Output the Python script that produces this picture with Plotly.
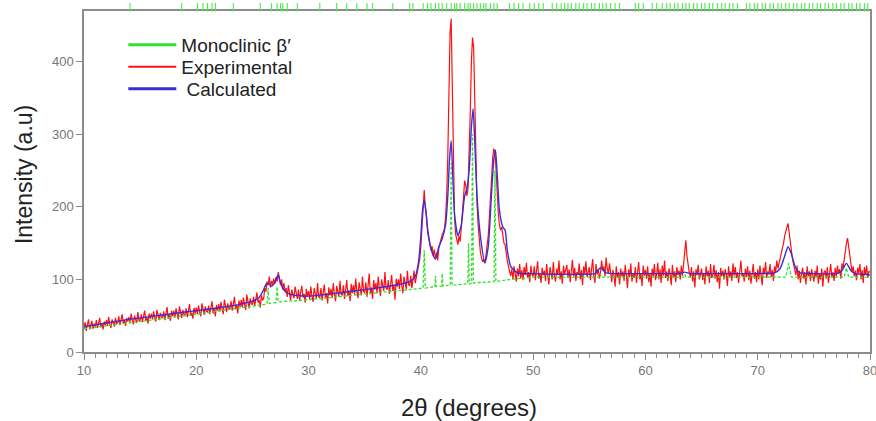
import plotly.graph_objects as go

# ---------------- data ----------------
exp_start, exp_step = 10.0, 0.1
experimental = [
    33,41,29,38,45,31,37,43,32,39,
    35,44,33,40,47,34,39,31,42,37,
    44,36,48,38,33,45,41,35,47,39,
    40,49,37,45,52,39,44,36,47,42,
    48,41,53,44,38,50,46,40,55,43,
    44,52,41,49,57,43,48,39,53,46,
    53,45,56,47,42,58,50,44,54,48,
    47,56,44,53,62,46,51,43,57,49,
    57,48,60,52,45,63,55,47,58,51,
    51,60,48,57,66,50,54,46,61,53,
    61,52,64,55,49,67,58,51,63,56,
    55,64,52,61,70,53,60,49,65,57,
    66,56,69,59,52,72,62,55,67,60,
    60,70,57,66,76,59,65,53,71,62,
    72,61,75,65,58,79,68,60,74,66,
    66,76,63,73,82,68,72,61,78,71,
    74,88,83,97,92,104,89,98,93,101,
    94,103,97,110,99,92,100,86,95,84,
    88,76,92,79,71,86,81,74,90,78,
    73,86,70,83,91,75,80,68,87,77,
    84,72,90,77,69,88,79,73,95,76,
    75,88,71,84,93,74,81,67,89,78,
    87,74,95,79,70,91,82,76,98,80,
    78,92,73,88,99,77,85,70,94,81,
    92,79,101,84,74,96,87,78,104,83,
    82,96,76,92,108,80,89,73,99,86,
    95,81,104,87,77,100,91,84,110,88,
    86,99,80,95,106,84,93,72,101,90,
    100,87,108,92,81,104,97,86,112,93,
    91,105,88,101,112,95,103,110,118,128,
    145,175,205,223,198,186,165,158,148,140,
    146,132,141,128,137,126,143,150,158,162,
    165,170,185,215,270,360,440,459,350,240,
    185,162,155,148,160,152,170,195,225,236,
    230,215,225,265,330,400,433,420,350,260,
    205,175,150,138,130,124,128,122,133,145,
    160,185,215,245,268,280,276,250,215,190,
    175,168,172,160,150,148,135,125,118,112,
    105,114,100,118,108,97,115,104,121,101,
    113,99,117,106,123,102,110,96,119,107,
    104,118,99,112,125,101,109,95,116,106,
    112,98,121,105,93,117,108,100,124,103,
    97,115,106,126,100,111,94,119,107,113,
    120,102,114,96,109,127,104,116,98,110,
    106,122,100,113,92,118,108,125,103,111,
    117,99,110,128,105,95,121,107,114,101,
    109,126,112,118,104,130,115,108,122,110,
    96,113,105,90,118,102,110,93,115,104,
    111,98,120,106,88,114,103,122,97,108,
    102,117,95,110,124,100,108,91,119,105,
    113,101,118,96,109,90,115,104,121,99,
    107,123,100,114,95,119,105,126,102,111,
    98,115,108,92,120,103,111,96,117,106,
    112,100,119,105,124,140,154,132,118,110,
    103,117,97,111,89,114,106,120,100,108,
    115,99,109,93,118,104,112,95,121,102,
    106,120,101,113,96,110,87,116,104,112,
    100,114,107,91,118,103,111,98,122,105,
    117,102,110,95,113,126,104,108,97,115,
    103,118,99,112,94,107,121,101,110,96,
    114,100,119,105,92,116,108,124,102,111,
    107,121,103,113,98,118,110,126,115,122,
    128,135,142,150,160,168,172,177,162,148,
    140,128,122,115,106,119,100,112,95,108,
    116,101,110,93,118,104,111,98,114,106,
    97,112,103,119,94,108,100,115,90,110,
    112,101,117,95,108,121,103,110,98,116,
    104,119,108,114,101,122,115,128,138,150,
    157,145,132,120,110,118,104,112,99,116,
    108,121,100,113,95,117,106,119,102,111,
    110,
]
two_theta_exp = [round(exp_start + exp_step * i, 1) for i in range(len(experimental))]

two_theta_calc = [10, 12, 14, 16, 18, 20, 22, 24, 25, 25.6, 26.0, 26.2, 26.4, 26.7, 27.0, 27.2,
                  27.3, 27.45, 27.7, 28.0, 28.5, 30, 32, 34, 36, 38, 39, 39.5, 39.8, 40.0, 40.15,
                  40.3, 40.45, 40.6, 40.8, 41.0, 41.3, 41.6, 41.9, 42.2, 42.4, 42.55, 42.7, 42.85,
                  43.0, 43.3, 43.6, 43.9, 44.1, 44.3, 44.5, 44.65, 44.8, 45.0, 45.3, 45.7, 46.0,
                  46.3, 46.5, 46.65, 46.8, 47.0, 47.3, 47.5, 47.7, 48.0, 48.5, 49, 50, 52, 54,
                  55.5, 56, 56.5, 58, 60, 62, 63, 63.5, 64, 66, 68, 70, 71.5, 72.0, 72.4, 72.7,
                  73.0, 73.4, 73.8, 75, 77, 77.5, 77.9, 78.3, 78.7, 79.5, 80]
calculated = [35, 40, 45, 49, 53, 57, 61, 66, 70, 75, 86, 93, 95, 91, 96, 104,
              106, 98, 88, 82, 79, 77, 80, 84, 88, 93, 97, 104, 125, 160, 195,
              209, 195, 170, 150, 137, 128, 145, 156, 175, 215, 265, 291, 240,
              190, 160, 175, 215, 225, 250, 310, 335, 290, 215, 160, 123, 145,
              220, 265, 278, 245, 195, 172, 168, 140, 118, 110, 108, 108, 107, 107,
              108, 116, 109, 108, 108, 108, 108, 110, 108, 108, 108, 108, 109, 115, 132, 145,
              135, 115, 109, 108, 108, 112, 122, 112, 108, 107, 106]

two_theta_phase = [10, 20, 26.3, 26.4, 26.5, 27.1, 27.2, 27.3, 30, 40.2, 40.3, 40.4, 41.25, 41.3,
                   41.35, 41.85, 41.9, 41.95, 42.62, 42.7, 42.78, 44.18, 44.25, 44.32, 44.52, 44.6,
                   44.68, 46.52, 46.6, 46.68, 48, 50, 55.9, 56, 56.1, 63.4, 63.5, 63.6, 72.5,
                   72.75, 73.0, 77.7, 77.9, 78.1, 80]
monoclinic = [32, 52, 66, 88, 67, 68, 90, 69, 72, 88, 140, 88, 90, 105,
              90, 91, 108, 91, 92, 260, 92, 94, 150, 94, 95, 300,
              95, 97, 250, 97, 100, 103, 103, 108, 103, 103, 107, 103, 103,
              122, 103, 103, 116, 103, 103]

reflections = [14.1, 18.7, 20.1, 20.6, 21.0, 21.4, 21.7, 23.3, 25.7, 26.7, 27.2, 27.5, 27.7, 28.1,
               29.0, 31.0, 32.5, 33.4, 34.3, 35.2, 35.7, 37.5, 39.0, 39.3, 40.2, 40.6, 40.9, 41.3,
               41.6, 41.9, 42.3, 42.7, 43.0, 43.2, 43.5, 43.9, 44.2, 44.4, 44.7, 45.0, 45.3, 45.6,
               45.8, 46.2, 46.5, 46.8, 47.9, 48.3, 48.7, 49.1, 49.7, 50.1, 50.5, 50.9, 51.7, 52.1,
               52.5, 52.8, 53.1, 53.4, 53.8, 54.1, 54.5, 54.8, 55.2, 55.5, 55.9, 56.2, 56.5, 56.9,
               57.3, 57.7, 59.1, 59.4, 59.8, 60.6, 61.0, 61.5, 61.9, 62.2, 62.6, 62.9, 63.3, 63.6,
               63.9, 64.3, 64.6, 65.0, 65.3, 65.7, 66.0, 66.4, 66.8, 67.1, 67.5, 67.8, 68.2, 69.0,
               69.3, 69.7, 70.0, 70.4, 70.7, 71.1, 71.4, 71.8, 72.1, 72.5, 72.8, 73.2, 73.5, 73.9,
               74.2, 74.6, 74.9, 75.3, 75.6, 76.0, 76.3, 76.7, 77.0, 77.4, 77.7, 78.1, 78.4, 78.8,
               79.1, 79.5, 79.8]

x_ticks = [10, 20, 30, 40, 50, 60, 70, 80]
y_ticks = [0, 100, 200, 300, 400]
series_names = ["Monoclinic \u03b2\u2032", "Experimental", " Calculated"]
x_title = "2\u03b8 (degrees)"
y_title = "Intensity (a.u)"

GREEN, RED, BLUE = "#2fe02f", "#ff1010", "#3a2ed6"
AXIS = "#8c8c8c"

fig = go.Figure()
fig.add_trace(go.Scatter(x=two_theta_exp, y=experimental, mode="lines",
                         line=dict(color=RED, width=1.2), showlegend=False))
fig.add_trace(go.Scatter(x=two_theta_phase, y=monoclinic, mode="lines",
                         line=dict(color=GREEN, width=1.3, dash="3px,2px"), showlegend=False))
fig.add_trace(go.Scatter(x=two_theta_calc, y=calculated, mode="lines",
                         line=dict(color=BLUE, width=1.4, shape="spline", smoothing=0.6),
                         showlegend=False))
# reflection tick marks in a thin strip above the frame
fig.add_trace(go.Scatter(x=reflections, y=[0.5] * len(reflections), mode="markers",
                         xaxis="x2", yaxis="y2",
                         marker=dict(symbol="line-ns", size=6, color=GREEN,
                                     line=dict(color="#44ee44", width=1.1)),
                         cliponaxis=False, showlegend=False))
# legend entries, one legend box per row so the row spacing matches
legend_ids = ["legend", "legend2", "legend3"]
legend_rows_y = [0.8797, 0.8166, 0.7536]
for name, col, w, lid in zip(series_names, [GREEN, RED, BLUE], [3, 2, 3], legend_ids):
    fig.add_trace(go.Scatter(x=[None], y=[None], mode="lines", name=name, legend=lid,
                             line=dict(color=col, width=w)))

legend_style = dict(x=0.05, xanchor="left", yanchor="middle", bgcolor="rgba(0,0,0,0)",
                    font=dict(size=19, color="#222", family="Liberation Sans, Arial"),
                    itemwidth=48, tracegroupgap=0)

axis_common = dict(showline=True, linecolor=AXIS, linewidth=1.5, mirror=True,
                   ticks="outside", tickcolor=AXIS, ticklen=6, tickwidth=1,
                   showgrid=False, zeroline=False, automargin=False,
                   ticklabeloverflow="allow",
                   tickfont=dict(family="Liberation Sans Narrow, Arial Narrow, Liberation Sans",
                                 size=13, color="#777777"))

top_split = 0.9757
fig.update_layout(
    width=876, height=421,
    margin=dict(l=84, r=6, t=3, b=69),
    paper_bgcolor="white", plot_bgcolor="white",
    font=dict(family="Liberation Sans, Arial", color="#222"),
    legend=dict(y=legend_rows_y[0], **legend_style),
    legend2=dict(y=legend_rows_y[1], **legend_style),
    legend3=dict(y=legend_rows_y[2], **legend_style),
    xaxis=dict(range=[10, 80], tickvals=x_ticks, **axis_common,
               minor=dict(dtick=1, ticks="outside", ticklen=4, tickcolor=AXIS)),
    yaxis=dict(range=[0, 469], tickvals=y_ticks, domain=[0, top_split], **axis_common),
    xaxis2=dict(range=[10, 80], anchor="y2", visible=False, automargin=False),
    yaxis2=dict(range=[0, 1], domain=[top_split, 1], anchor="x2", visible=False, automargin=False),
    annotations=[
        dict(text=x_title, xref="paper", yref="paper", x=0.49, y=-0.158, showarrow=False,
             xanchor="center", yanchor="middle", font=dict(size=24, color="#222")),
        dict(text=y_title, xref="paper", yref="paper", x=-0.0763, y=0.507, showarrow=False,
             textangle=-90, xanchor="center", yanchor="middle", font=dict(size=23, color="#222")),
    ],
)

fig.write_html("out.html", config={"displayModeBar": False},
               post_script="document.body.style.margin='0';document.body.style.overflow='hidden';")
